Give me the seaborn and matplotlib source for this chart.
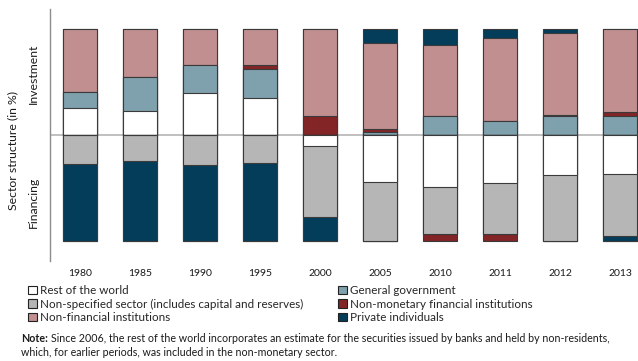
import numpy as np
import pandas as pd
import seaborn as sns
import matplotlib.pyplot as plt
from matplotlib.patches import Patch

# years and sector shares (in %)
years = ["1980", "1985", "1990", "1995", "2000", "2005", "2010", "2011", "2012", "2013"]

# Investment side (stacked upward from zero)
inv_rest_world = [25.2, 22.7, 39.4, 35.0, 0, 0, 0, 0, 0, 0]
inv_general_gov = [15.1, 32.2, 27.4, 27.1, 0, 2.5, 17.7, 12.9, 17.7, 17.7]
inv_nonmonetary = [0, 0.5, 0, 3.8, 18.3, 3.2, 0, 0, 1.0, 4.1]
inv_nonfinancial = [59.7, 44.6, 33.2, 34.1, 81.7, 81.7, 67.5, 79.2, 77.5, 78.2]
inv_private = [0, 0, 0, 0, 0, 12.6, 14.8, 7.9, 3.8, 0]

# Financing side (stacked downward from zero)
fin_rest_world = [0, 0, 0, 0, 10.7, 44.8, 48.9, 45.1, 37.5, 36.9]
fin_nonspecified = [27.8, 24.3, 28.1, 26.8, 66.9, 55.2, 44.8, 48.9, 62.5, 59.0]
fin_private = [72.2, 75.7, 71.9, 73.2, 22.4, 0, 0, 0, 0, 4.1]
fin_nonmonetary = [0, 0, 0, 0, 0, 0, 6.3, 6.0, 0, 0]

legend_labels = ["Rest of the world", "General government",
                 "Non-specified sector (includes capital and reserves)",
                 "Non-monetary financial institutions",
                 "Non-financial institutions", "Private individuals"]

colors = {
    "rest": "#FFFFFF",
    "gov": "#7FA0AD",
    "nonspec": "#B6B6B6",
    "nonmon": "#832427",
    "nonfin": "#C18F90",
    "priv": "#033D59",
}

sns.set_style("white")
plt.rcParams["font.family"] = ["Lato", "DejaVu Sans"]

fig = plt.figure(figsize=(6.38, 3.61), dpi=100)
W, H = 638, 361
ax = fig.add_axes([50 / W, 100 / H, 588 / W, 252 / H])

ax.axhline(0, color="#BBBBBB", lw=1.3, zorder=0)

edge = "#3A3A3A"

# investment: draw cumulative totals from the top segment down so the lower ones overlay
inv_stack = [("rest", inv_rest_world), ("gov", inv_general_gov), ("nonmon", inv_nonmonetary),
             ("nonfin", inv_nonfinancial), ("priv", inv_private)]
cum = np.cumsum([np.array(v, dtype=float) for _, v in inv_stack], axis=0)
for i in range(len(inv_stack) - 1, -1, -1):
    sns.barplot(x=years, y=cum[i], color=colors[inv_stack[i][0]], saturation=1,
                width=0.58, edgecolor=edge, linewidth=0.8, ax=ax, zorder=2)

fin_stack = [("rest", fin_rest_world), ("nonspec", fin_nonspecified),
             ("priv", fin_private), ("nonmon", fin_nonmonetary)]
cum = -np.cumsum([np.array(v, dtype=float) for _, v in fin_stack], axis=0)
for i in range(len(fin_stack) - 1, -1, -1):
    sns.barplot(x=years, y=cum[i], color=colors[fin_stack[i][0]], saturation=1,
                width=0.58, edgecolor=edge, linewidth=0.8, ax=ax, zorder=2)

ax.set_xlim(-0.5, 9.3)
ax.set_ylim(-119.4, 119.4)
ax.set_yticks([])
ax.set_xlabel("")
ax.set_ylabel("")
for s in ["top", "right", "bottom"]:
    ax.spines[s].set_visible(False)
ax.spines["left"].set_color("#8C8C8C")
ax.spines["left"].set_linewidth(1)
ax.tick_params(axis="x", length=0, pad=6, labelsize=7.5, labelcolor="#1A1A1A")

fig.text(13 / W, 1 - 151 / H, "Sector structure (in %)", rotation=90,
         ha="center", va="center", fontsize=8.8, color="#1A1A1A")
fig.text(33 / W, 1 - 74 / H, "Investment", rotation=90,
         ha="center", va="center", fontsize=8.8, color="#1A1A1A")
fig.text(33 / W, 1 - 202 / H, "Financing", rotation=90,
         ha="center", va="center", fontsize=8.8, color="#1A1A1A")

keys = ["rest", "nonspec", "nonfin", "gov", "nonmon", "priv"]
labs = [legend_labels[0], legend_labels[2], legend_labels[4],
        legend_labels[1], legend_labels[3], legend_labels[5]]
handles = [Patch(facecolor=colors[k], edgecolor="#222222", linewidth=0.8) for k in keys]
fig.legend(handles, labs, loc="upper left", bbox_to_anchor=(28 / W, 1 - 285 / H),
           ncol=2, frameon=False, fontsize=8.4, handlelength=0.75, handleheight=0.75,
           handletextpad=0.25, labelspacing=0.22, columnspacing=3.0, borderpad=0,
           borderaxespad=0)

t = fig.text(21 / W, 1 - 339 / H, "Note:", fontsize=7.7, weight="bold",
             va="center", color="#1A1A1A")
r = fig.canvas.get_renderer()
bb = t.get_window_extent(renderer=r)
fig.text(bb.x1 / W + 3 / W, 1 - 339 / H,
         "Since 2006, the rest of the world incorporates an estimate for the securities issued by banks and held by non-residents,",
         fontsize=7.7, va="center", color="#1A1A1A")
fig.text(21 / W, 1 - 353 / H,
         "which, for earlier periods, was included in the non-monetary sector.",
         fontsize=7.7, va="center", color="#1A1A1A")

fig.savefig("out.png", dpi=100)
